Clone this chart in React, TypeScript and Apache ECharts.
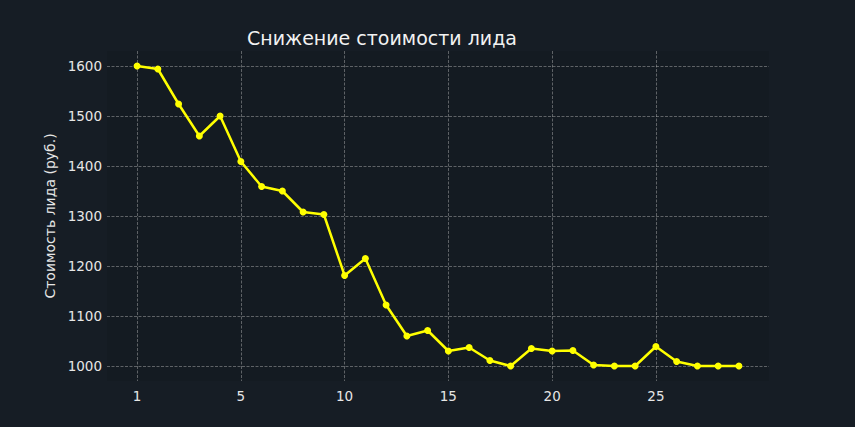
import React, { useEffect, useRef } from "react";
import * as echarts from "echarts";

const days = [0, 1, 2, 3, 4, 5, 6, 7, 8, 9, 10, 11, 12, 13, 14, 15, 16, 17, 18, 19, 20, 21, 22, 23, 24, 25, 26, 27, 28, 29];
const leadCost = [1600, 1594, 1524, 1460, 1500, 1409, 1359, 1350, 1308, 1303, 1181, 1215, 1122, 1060, 1071, 1030, 1037, 1011, 1000, 1035, 1030, 1031, 1002, 1000, 1000, 1039, 1009, 1000, 1000, 1000];
const xTicks = [0, 5, 10, 15, 20, 25];
const xTickLabels = ["1", "5", "10", "15", "20", "25"];
const yTicks = [1000, 1100, 1200, 1300, 1400, 1500, 1600];

const titleText = "Снижение стоимости лида";
const yName = "Стоимость лида (руб.)";

export default function App() {
  const ref = useRef<HTMLDivElement>(null);
  useEffect(() => {
    document.body.style.margin = "0";
    document.body.style.background = "#161d25";
    const chart = echarts.init(ref.current!, null, { renderer: "svg" });
    const font = "DejaVu Sans";
    const gridLine = { show: true, lineStyle: { color: "rgba(190,190,190,0.55)", width: 0.8, type: [3, 1.5] as any } };
    chart.setOption({
      animation: false,
      backgroundColor: "#161d25",
      title: {
        text: titleText,
        left: 242,
        top: 23,
        textStyle: { color: "#f2f2f2", fontSize: 19, fontWeight: "normal", fontFamily: font },
      },
      grid: {
        left: 107,
        right: 86,
        top: 51,
        bottom: 46,
        show: true,
        backgroundColor: "#141b22",
        borderWidth: 0,
      },
      xAxis: {
        type: "value",
        min: -1.45,
        max: 30.45,
        axisLine: { show: false },
        axisTick: { show: false, customValues: xTicks },
        axisLabel: {
          customValues: xTicks,
          color: "#e6e6e6",
          fontSize: 13.5,
          fontFamily: font,
          margin: 8,
          formatter: (v: number) => xTickLabels[xTicks.indexOf(v)] ?? String(v),
        },
        splitLine: gridLine,
      },
      yAxis: {
        type: "value",
        min: 970,
        max: 1630,
        name: yName,
        nameLocation: "middle",
        nameGap: 42,
        nameTextStyle: { color: "#e6e6e6", fontSize: 14, fontFamily: font },
        axisLine: { show: false },
        axisTick: { show: false, customValues: yTicks },
        axisLabel: {
          customValues: yTicks,
          color: "#e6e6e6",
          fontSize: 13.5,
          fontFamily: font,
          margin: 5,
          formatter: (v: number) => String(v),
        },
        splitLine: gridLine,
      },
      series: [
        {
          type: "line",
          data: days.map((d, i) => [d, leadCost[i]]),
          symbol: "circle",
          symbolSize: 7,
          lineStyle: { color: "#ffff00", width: 2.5 },
          itemStyle: { color: "#ffff00" },
        },
      ],
    });
    return () => chart.dispose();
  }, []);
  return <div ref={ref} style={{ position: "fixed", left: 0, top: 0, width: 855, height: 427 }} />;
}
